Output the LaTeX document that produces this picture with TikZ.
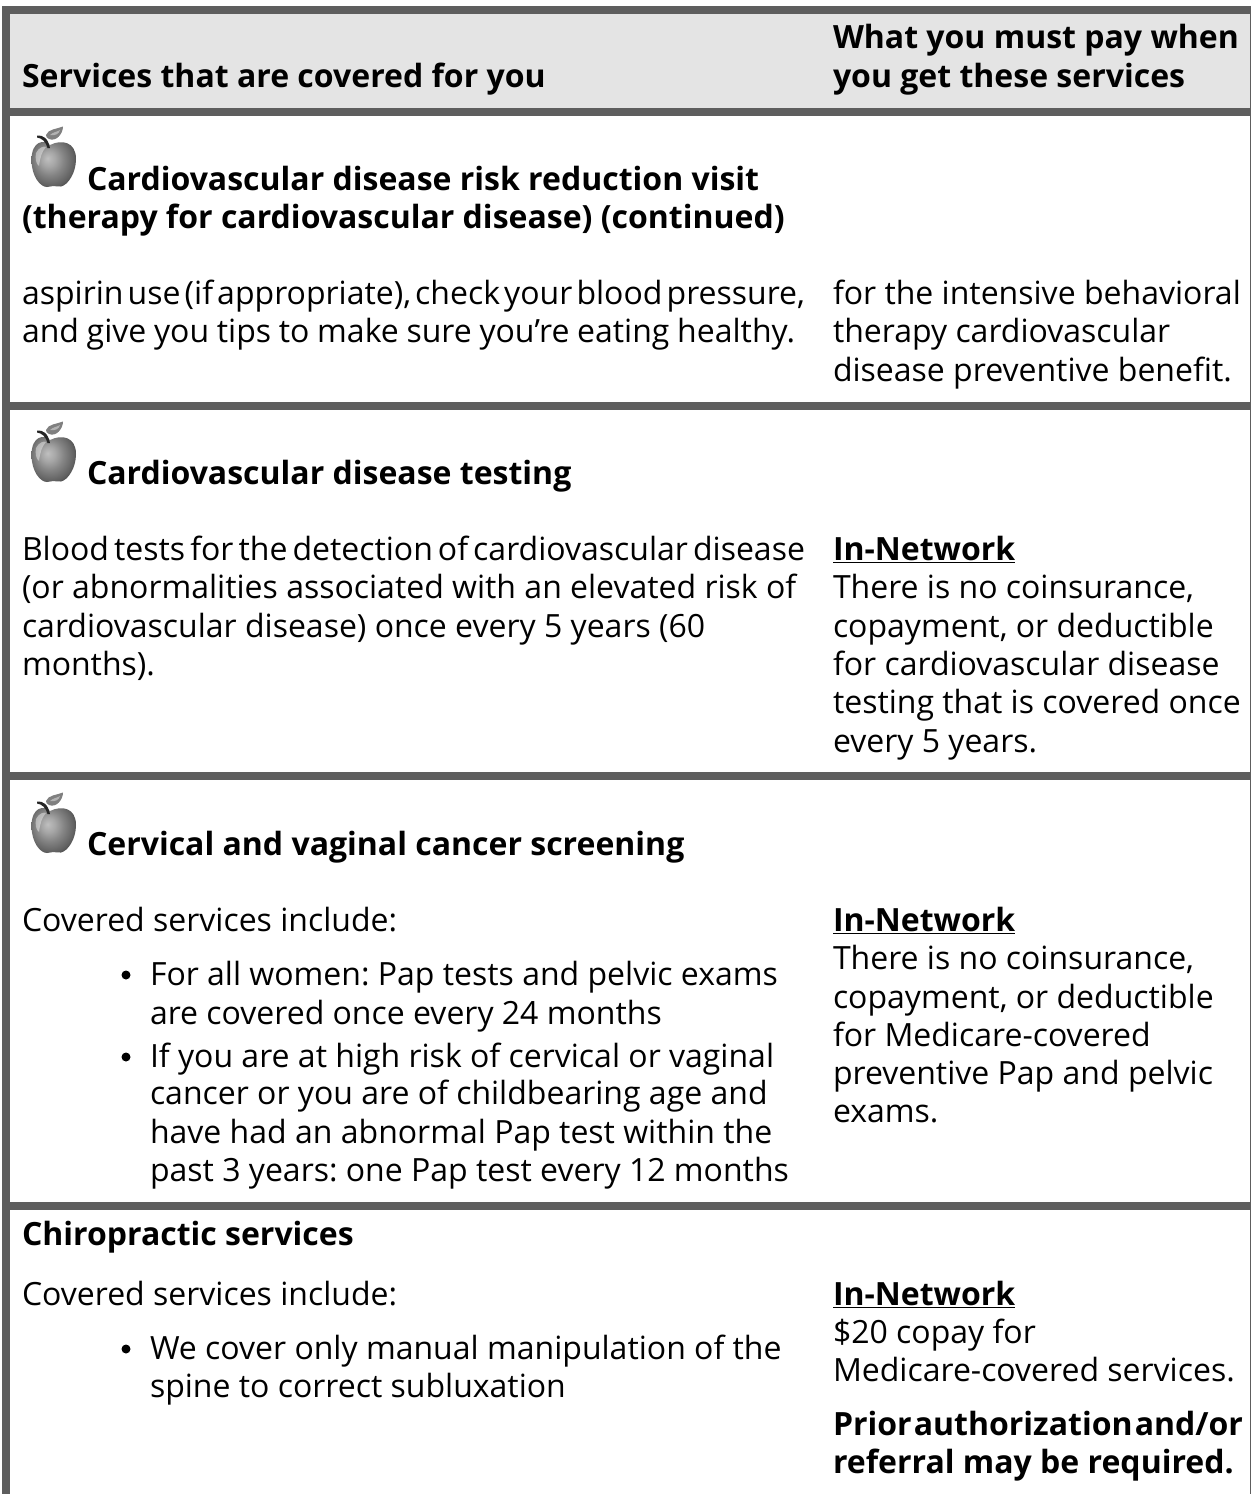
\documentclass[tikz,border=0pt]{standalone}
\usepackage{fontspec}
\setmainfont{Open Sans}
\definecolor{barc}{HTML}{5E5E5E}
\definecolor{headc}{HTML}{E4E4E4}
\newcommand{\fitline}[2]{\hbox to #1{\spaceskip=0.26em plus 1em minus 1em\relax #2}}
\pgfdeclareradialshading{applesh}{\pgfpoint{-7bp}{5bp}}{
 color(0bp)=(black!25); color(8bp)=(black!35); color(16bp)=(black!48); color(26bp)=(black!62); color(36bp)=(black!85); color(50bp)=(black!95)}
\tikzset{
 x=1pt,y=-1pt,
 txt/.style={anchor=base west,inner sep=0pt,outer sep=0pt,font=\fontsize{32}{38}\selectfont\frenchspacing,text=black},
 hd/.style={txt,font=\fontsize{32}{38}\selectfont\bfseries\frenchspacing},
 dotb/.style={circle,fill=black,inner sep=0pt,minimum size=9pt},
 bar/.style={fill=barc,draw=none},
 apple/.pic={
  \shade[shading=applesh]
    (20,19) .. controls (14,13) and (1.5,15) .. (1.5,34)
    .. controls (1.5,50) and (10,61) .. (17,61)
    .. controls (20,61) and (21,60) .. (23.5,60)
    .. controls (26,60) and (28,61) .. (31,60.5)
    .. controls (38,59) and (46,47) .. (46,33)
    .. controls (46,16) and (32,13) .. (20,19) -- cycle;
  \fill[black!8,opacity=.5] (6,27) .. controls (9,21) and (14,20) .. (16,21) .. controls (12,25) and (10,32) .. (9,40) .. controls (6,38) and (5,32) .. (6,27) -- cycle;
  \fill[black!85] (7,9.5) .. controls (13,9) and (18,12) .. (20,22) -- (17.5,22) .. controls (16,16) and (12,12) .. (7,11.5) -- cycle;
  \fill[black!50] (16,9) .. controls (18,3) and (27,3) .. (33,0.5) .. controls (33,8) and (26,16) .. (19,13) .. controls (17,12) and (16,11) .. (16,9) -- cycle;
  \fill[black!30] (20,9) .. controls (23,6) and (27,6) .. (30,4) .. controls (29,8) and (25,10) .. (20,9) -- cycle;
 }
}
\begin{document}
\begin{tikzpicture}
\useasboundingbox (0,0) rectangle (1251,1494);
\fill[white] (0,0) rectangle (1251,1494);
\fill[headc] (10,14) rectangle (1251,108);
\fill[bar] (2,6) rectangle (1251,14);
\fill[bar] (2,108) rectangle (1251,116);
\fill[bar] (2,402) rectangle (1251,410);
\fill[bar] (2,772) rectangle (1251,780);
\fill[bar] (2,1202) rectangle (1251,1210);
\fill[bar] (2,6) rectangle (10,1494);
\fill[bar] (1250,6) rectangle (1251,1494);
% header
\node[hd] (h1) at (22,87) {Services that are covered for you};
\node[hd] (h2) at (833,48) {What you must pay when};
\node[hd] (h3) at (833,87) {you get these services};
% row 1
\pic at (30,126) {apple};
\node[hd] (a1) at (87,190) {Cardiovascular disease risk reduction visit};
\node[hd] (a2) at (22,228.5) {(therapy for cardiovascular disease) (continued)};
\node[txt] (a3) at (22,304) {\fitline{783pt}{aspirin use (if appropriate), check your blood pressure,}};
\node[txt] (a4) at (22,342) {\fitline{773pt}{and give you tips to make sure you’re eating healthy.}};
\node[txt] (a5) at (833,304) {for the intensive behavioral};
\node[txt] (a6) at (833,342) {therapy cardiovascular};
\node[txt] (a7) at (833,381) {disease preventive benefit.};
% row 2
\pic at (30,421) {apple};
\node[hd] (b1) at (87,484) {Cardiovascular disease testing};
\node[txt] (b2) at (22,560) {\fitline{783pt}{Blood tests for the detection of cardiovascular disease}};
\node[txt] (b3) at (22,598) {(or abnormalities associated with an elevated risk of};
\node[txt] (b4) at (22,637) {cardiovascular disease) once every 5 years (60};
\node[txt] (b5) at (22,675) {months).};
\node[hd] (b6) at (833,560) {\underline{In-Network}};
\node[txt] (b7) at (833,598) {There is no coinsurance,};
\node[txt] (b8) at (833,637) {copayment, or deductible};
\node[txt] (b9) at (833,675) {for cardiovascular disease};
\node[txt] (b10) at (833,713) {testing that is covered once};
\node[txt] (b11) at (833,752) {every 5 years.};
% row 3
\pic at (30,792) {apple};
\node[hd] (c1) at (87,855) {Cervical and vaginal cancer screening};
\node[txt] (c2) at (22,931) {Covered services include:};
\node[dotb] (d1) at (126,975) {};
\node[txt] (c3) at (150,985) {For all women: Pap tests and pelvic exams};
\node[txt] (c4) at (150,1024) {are covered once every 24 months};
\node[dotb] (d2) at (126,1057) {};
\node[txt] (c5) at (150,1067) {If you are at high risk of cervical or vaginal};
\node[txt] (c6) at (150,1104) {cancer or you are of childbearing age and};
\node[txt] (c7) at (150,1143) {have had an abnormal Pap test within the};
\node[txt] (c8) at (150,1181) {past 3 years: one Pap test every 12 months};
\node[hd] (c9) at (833,931) {\underline{In-Network}};
\node[txt] (c10) at (833,969) {There is no coinsurance,};
\node[txt] (c11) at (833,1008) {copayment, or deductible};
\node[txt] (c12) at (833,1046) {for Medicare-covered};
\node[txt] (c13) at (833,1084) {preventive Pap and pelvic};
\node[txt] (c14) at (833,1122) {exams.};
% row 4
\node[hd] (e1) at (22,1245) {Chiropractic services};
\node[txt] (e2) at (22,1305) {Covered services include:};
\node[dotb] (d3) at (126,1349) {};
\node[txt] (e3) at (150,1359) {We cover only manual manipulation of the};
\node[txt] (e4) at (150,1397) {spine to correct subluxation};
\node[hd] (e5) at (833,1305) {\underline{In-Network}};
\node[txt] (e6) at (833,1343) {\$20 copay for};
\node[txt] (e7) at (833,1381) {Medicare-covered services.};
\node[hd] (e8) at (833,1435) {\fitline{410pt}{Prior authorization and/or}};
\node[hd] (e9) at (833,1473) {referral may be required.};
\end{tikzpicture}
\end{document}
